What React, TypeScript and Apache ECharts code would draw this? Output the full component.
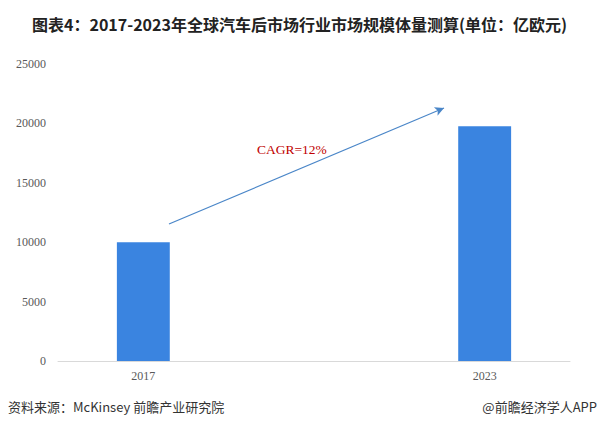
import React, { useEffect, useRef } from "react";
import * as echarts from "echarts";

const categories = ["2017", "", "2023"];
const marketSize = [10000, null, 19750];
const yTicks = [0, 5000, 10000, 15000, 20000, 25000];
const titleText = "图表4：2017-2023年全球汽车后市场行业市场规模体量测算(单位：亿欧元)";
const cagrText = "CAGR=12%";
const sourceText = "资料来源：McKinsey 前瞻产业研究院";
const brandText = "@前瞻经济学人APP";

export default function App() {
  const ref = useRef<HTMLDivElement>(null);
  useEffect(() => {
    if (!ref.current) return;
    const chart = echarts.init(ref.current, null, { renderer: "svg" });
    chart.setOption({
      animation: false,
      backgroundColor: "#ffffff",
      title: {
        text: titleText,
        left: "center",
        top: 11,
        textStyle: {
          fontFamily: "Noto Sans CJK SC",
          fontWeight: "bold",
          fontSize: 16,
          color: "#222222",
        },
      },
      grid: { left: 58, right: 29, top: 64, bottom: 67 },
      xAxis: {
        type: "category",
        data: categories,
        axisTick: { show: false },
        axisLine: { lineStyle: { color: "#d9d9d9", width: 1 } },
        axisLabel: {
          fontFamily: "Liberation Serif",
          fontSize: 12,
          color: "#595959",
          margin: 9,
        },
      },
      yAxis: {
        type: "value",
        min: yTicks[0],
        max: yTicks[yTicks.length - 1],
        interval: yTicks[1] - yTicks[0],
        splitLine: { show: false },
        axisLine: { show: false },
        axisTick: { show: false },
        axisLabel: {
          fontFamily: "Liberation Serif",
          fontSize: 12,
          color: "#595959",
          margin: 12,
          formatter: (v: number) => String(v),
        },
      },
      series: [
        {
          type: "bar",
          data: marketSize,
          barWidth: "31%",
          itemStyle: { color: "#3a84e0" },
          markLine: {
            silent: true,
            symbol: ["none", "arrow"],
            symbolSize: [7, 9],
            label: { show: false },
            lineStyle: { color: "#4a86c8", width: 1.2, type: "solid" },
            data: [[{ x: 169, y: 224 }, { x: 444, y: 108 }]],
          },
        },
      ],
      graphic: [
        {
          type: "text",
          left: 257,
          top: 142,
          style: {
            text: cagrText,
            fontFamily: "Liberation Serif",
            fontSize: 13.5,
            fill: "#c00000",
          },
        },
        {
          type: "text",
          left: 8,
          top: 400,
          style: {
            text: sourceText,
            fontFamily: "Noto Sans CJK SC",
            fontSize: 13,
            fill: "#333333",
          },
        },
        {
          type: "text",
          right: 2,
          top: 400,
          style: {
            text: brandText,
            fontFamily: "Noto Sans CJK SC",
            fontSize: 13,
            fill: "#333333",
          },
        },
      ],
    });
    return () => chart.dispose();
  }, []);
  return <div ref={ref} style={{ width: 599, height: 428, position: "absolute", left: 0, top: 0 }} />;
}
